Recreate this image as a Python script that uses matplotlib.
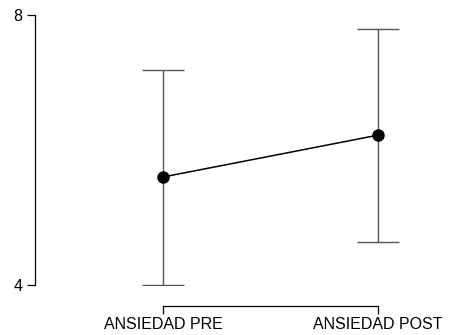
import matplotlib.pyplot as plt

plt.rcParams['font.family'] = ['Liberation Sans', 'DejaVu Sans']

# group means with interval limits
conditions = ["ANSIEDAD PRE", "ANSIEDAD POST"]
means = [5.6, 6.22]
upper = [7.19, 7.79]
lower = [4.0, 4.63]

W, H = 450, 335
fig = plt.figure(figsize=(W / 100, H / 100), dpi=100)
ax = fig.add_axes([35 / W, (H - 285) / H, (440 - 35) / W, 270 / H])

x = list(range(len(conditions)))
err = [[m - lo for m, lo in zip(means, lower)], [u - m for m, u in zip(means, upper)]]
ax.errorbar(x, means, yerr=err, fmt='none', ecolor='#555555', elinewidth=1.0,
            capsize=15, capthick=1.0)
ax.plot(x, means, color='black', lw=1.1, marker='o', markersize=8, zorder=3)

ax.set_xlim(-128 / 215, 1 + 62 / 215)
ax.set_ylim(4, 8)
ax.set_yticks([4, 8])
ax.set_xticks(x)
ax.set_xticklabels(conditions)

for s in ['top', 'right']:
    ax.spines[s].set_visible(False)
ax.spines['bottom'].set_position(('outward', 15))
ax.spines['bottom'].set_bounds(0, 1)
ax.spines['left'].set_bounds(4, 8)
for s in ['bottom', 'left']:
    ax.spines[s].set_linewidth(0.9)
ax.tick_params(axis='both', length=6, width=0.9, labelsize=11.5, pad=3)
ax.tick_params(axis='x', pad=2)

fig.savefig("out.png", dpi=100)
